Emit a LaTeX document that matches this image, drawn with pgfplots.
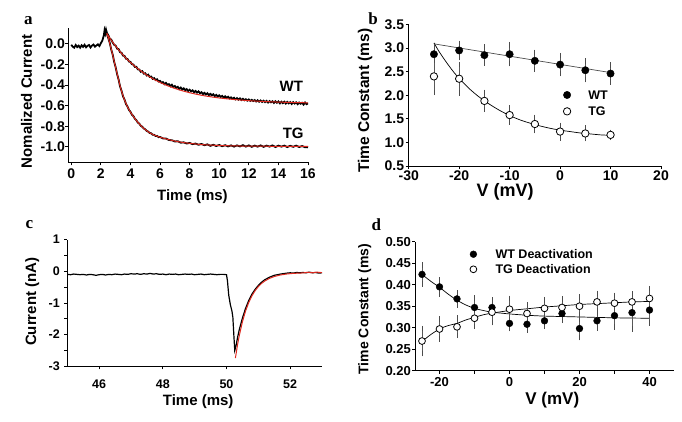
\documentclass[border=0pt]{standalone}
\usepackage{fontspec}
\setmainfont{Liberation Sans}
\newfontfamily\panelfont{Liberation Serif}
\usepackage{pgfplots}
\pgfplotsset{compat=1.18}
\newcommand{\fs}[1]{\fontsize{#1}{#1}\selectfont}
\definecolor{fitred}{RGB}{222,40,30}
\pgfplotsset{
  panel/.style={
    scale only axis, anchor=south west,
    axis lines*=left,
    axis line style={line width=0.8pt, black},
    every tick/.style={black, line width=0.8pt},
    tick align=outside, major tick length=3pt, minor tick length=3pt,
    /pgf/number format/assume math mode=true,
    clip=false,
  },
  ebar/.style={error bars/.cd, y dir=both, y explicit,
    error bar style={line width=0.8pt, black!65},
    error mark options={line width=0.8pt, mark size=2.8pt, black!70}},
}
\begin{document}
\begin{tikzpicture}[x=1pt,y=1pt]
\useasboundingbox (0,0) rectangle (682,421);
% panel letters
\node[anchor=base, font=\panelfont\bfseries\fs{17}] at (28.3,396) {a};
\node[anchor=base, font=\panelfont\bfseries\fs{17}] at (373.2,396) {b};
\node[anchor=base, font=\panelfont\bfseries\fs{17}] at (29.3,192.7) {c};
\node[anchor=base, font=\panelfont\bfseries\fs{17}] at (376.3,191) {d};

% ---------------- panel a
\begin{axis}[panel, at={(68.3pt,258.7pt)}, width=239.7pt, height=134pt,
  xmin=-0.2, xmax=16, ymin=-1.15, ymax=0.15,
  xtick={0,2,4,6,8,10,12,14,16},
  ytick={-1.0,-0.8,-0.6,-0.4,-0.2,0.0},
  xticklabel style={font=\bfseries\fs{14}, anchor=base, inner sep=0pt, yshift=-13pt},
  yticklabel style={font=\bfseries\fs{14}, anchor=east, inner sep=0pt, xshift=-0.3pt,
    /pgf/number format/fixed, /pgf/number format/fixed zerofill, /pgf/number format/precision=1},
  xlabel={Time (ms)}, ylabel={Nomalized Current},
  xlabel style={font=\bfseries\fs{15}, at={(axis description cs:0.518,0)}, anchor=base, yshift=-37.7pt},
  ylabel style={font=\bfseries\fs{15}, at={(axis description cs:-0.1744,0.454)}, anchor=center},
]
\addplot[black, line width=1.8pt] coordinates {
(0.0,-0.010)(0.1,-0.028)(0.2,-0.038)(0.3,-0.012)(0.4,-0.032)(0.5,-0.018)(0.6,-0.038)(0.7,-0.015)(0.8,-0.030)(0.9,-0.010)
(1.0,-0.034)(1.1,-0.020)(1.2,-0.012)(1.3,-0.036)(1.4,-0.018)(1.5,-0.008)(1.6,-0.028)(1.7,-0.016)(1.8,-0.006)(1.9,-0.022)
(2.0,0.005)(2.1,0.030)(2.2,0.080)(2.25,0.130)(2.3,0.100)(2.35,0.135)
(2.4,0.105)(2.5,0.085)(2.6,0.050)(2.7,0.040)(2.8,0.012)(2.9,-0.010)(3.0,-0.018)(3.1,-0.048)(3.2,-0.052)(3.3,-0.082)
(3.4,-0.088)(3.5,-0.115)(3.6,-0.118)(3.7,-0.145)(3.8,-0.148)(3.9,-0.172)(4.0,-0.176)(4.1,-0.198)(4.2,-0.202)(4.3,-0.225)
(4.4,-0.224)(4.5,-0.248)(4.6,-0.250)(4.7,-0.272)(4.8,-0.266)(4.9,-0.290)(5.0,-0.286)(5.1,-0.308)(5.2,-0.300)(5.3,-0.322)
(5.4,-0.318)(5.5,-0.340)(5.6,-0.333)(5.7,-0.352)(5.8,-0.345)(5.9,-0.366)(6.0,-0.360)(6.1,-0.378)(6.2,-0.372)(6.3,-0.392)
(6.4,-0.380)(6.5,-0.398)(6.6,-0.392)(6.7,-0.412)(6.8,-0.398)(6.9,-0.420)(7.0,-0.410)(7.1,-0.428)(7.2,-0.418)(7.3,-0.440)
(7.4,-0.425)(7.5,-0.444)(7.6,-0.432)(7.7,-0.450)(7.8,-0.440)(7.9,-0.458)(8.0,-0.446)(8.1,-0.462)(8.2,-0.452)(8.3,-0.470)
(8.4,-0.458)(8.5,-0.474)(8.6,-0.462)(8.7,-0.480)(8.8,-0.470)(8.9,-0.488)(9.0,-0.476)(9.1,-0.492)(9.2,-0.480)(9.3,-0.498)
(9.4,-0.486)(9.5,-0.500)(9.6,-0.490)(9.7,-0.508)(9.8,-0.496)(9.9,-0.512)(10.0,-0.500)(10.1,-0.516)(10.2,-0.506)(10.3,-0.522)
(10.4,-0.510)(10.5,-0.526)(10.6,-0.514)(10.7,-0.530)(10.8,-0.520)(10.9,-0.534)(11.0,-0.524)(11.1,-0.540)(11.2,-0.528)(11.3,-0.542)
(11.4,-0.530)(11.5,-0.546)(11.6,-0.534)(11.7,-0.548)(11.8,-0.538)(11.9,-0.552)(12.0,-0.540)(12.1,-0.554)(12.2,-0.544)(12.3,-0.556)
(12.4,-0.546)(12.5,-0.560)(12.6,-0.548)(12.7,-0.562)(12.8,-0.550)(12.9,-0.564)(13.0,-0.552)(13.1,-0.566)(13.2,-0.554)(13.3,-0.570)
(13.4,-0.556)(13.5,-0.568)(13.6,-0.558)(13.7,-0.574)(13.8,-0.558)(13.9,-0.572)(14.0,-0.560)(14.1,-0.578)(14.2,-0.562)(14.3,-0.576)
(14.4,-0.562)(14.5,-0.580)(14.6,-0.564)(14.7,-0.578)(14.8,-0.566)(14.9,-0.584)(15.0,-0.566)(15.1,-0.580)(15.2,-0.568)(15.3,-0.586)
(15.4,-0.570)(15.5,-0.582)(15.6,-0.572)(15.7,-0.590)(15.8,-0.570)(15.9,-0.586)(16.0,-0.578)
};
\addplot[black, line width=1.8pt] coordinates {
(2.35,0.135)(2.4,0.100)(2.5,0.055)(2.6,0.010)(2.7,-0.055)(2.8,-0.105)(2.9,-0.175)(3.0,-0.228)(3.1,-0.295)(3.2,-0.348)
(3.3,-0.415)(3.4,-0.458)(3.5,-0.510)(3.6,-0.542)(3.7,-0.585)(3.8,-0.608)(3.9,-0.642)(4.0,-0.660)(4.1,-0.688)(4.2,-0.702)
(4.3,-0.728)(4.4,-0.742)(4.5,-0.765)(4.6,-0.775)(4.7,-0.796)(4.8,-0.805)(4.9,-0.822)(5.0,-0.830)(5.1,-0.846)(5.2,-0.852)
(5.3,-0.866)(5.4,-0.868)(5.5,-0.882)(5.6,-0.884)(5.7,-0.895)(5.8,-0.894)(5.9,-0.906)(6.0,-0.904)(6.2,-0.918)(6.4,-0.920)
(6.6,-0.934)(6.8,-0.936)(7.0,-0.948)(7.2,-0.946)(7.4,-0.960)(7.6,-0.956)(7.8,-0.968)(8.0,-0.962)(8.2,-0.974)(8.4,-0.968)
(8.6,-0.980)(8.8,-0.972)(9.0,-0.984)(9.2,-0.976)(9.4,-0.990)(9.6,-0.980)(9.8,-0.992)(10.0,-0.982)(10.2,-0.994)(10.4,-0.984)
(10.6,-0.996)(10.8,-0.986)(11.0,-0.998)(11.2,-0.986)(11.4,-0.996)(11.6,-0.984)(11.8,-0.998)(12.0,-0.986)(12.2,-1.000)(12.4,-0.988)
(12.6,-0.998)(12.8,-0.986)(13.0,-1.000)(13.2,-0.988)(13.4,-0.998)(13.6,-0.986)(13.8,-1.002)(14.0,-0.988)(14.2,-0.998)(14.4,-0.988)
(14.6,-1.002)(14.8,-0.990)(15.0,-1.000)(15.2,-0.988)(15.4,-1.002)(15.6,-0.992)(15.8,-1.004)(16.0,-1.005)
};
\addplot[fitred, line width=1.0pt] coordinates {
(2.4,0.100)(2.6,0.056)(2.8,0.015)(3.0,-0.023)(3.2,-0.059)(3.4,-0.093)(3.6,-0.124)(3.8,-0.154)(4.0,-0.181)
(4.4,-0.231)(4.8,-0.274)(5.2,-0.313)(5.6,-0.346)(6.0,-0.375)(6.5,-0.407)(7.0,-0.433)(7.5,-0.456)(8.0,-0.475)
(8.5,-0.491)(9.0,-0.505)(9.5,-0.516)(10.0,-0.526)(11.0,-0.541)(12.0,-0.552)(13.0,-0.560)(14.0,-0.566)(15.0,-0.570)(16.0,-0.573)
};
\addplot[fitred, line width=1.0pt] coordinates {
(2.4,0.100)(2.5,0.060)(2.6,0.005)(2.7,-0.050)(2.8,-0.110)(2.9,-0.170)(3.0,-0.230)(3.1,-0.290)(3.2,-0.350)(3.3,-0.410)
(3.4,-0.460)(3.5,-0.505)(3.6,-0.545)(3.7,-0.580)(3.8,-0.610)(3.9,-0.638)(4.0,-0.663)(4.2,-0.705)(4.4,-0.745)(4.6,-0.778)
(4.8,-0.808)(5.0,-0.833)(5.3,-0.864)(5.6,-0.886)(6.0,-0.907)(6.5,-0.927)(7.0,-0.944)(7.5,-0.957)(8.0,-0.966)(8.5,-0.974)
(9.0,-0.980)(10.0,-0.987)(11.0,-0.991)(12.0,-0.993)(14.0,-0.995)(16.0,-0.996)
};
\node[font=\bfseries\fs{15}] at (axis cs:14.87,-0.41) {WT};
\node[font=\bfseries\fs{15}] at (axis cs:15.0,-0.87) {TG};
\end{axis}

% ---------------- panel b
\begin{axis}[panel, at={(408.7pt,255pt)}, width=252.3pt, height=141.5pt,
  xmin=-30, xmax=20, ymin=0.5, ymax=3.5,
  xtick={-30,-20,-10,0,10,20},
  ytick={0.5,1.0,1.5,2.0,2.5,3.0,3.5},
  xticklabel style={font=\bfseries\fs{14}, anchor=base, inner sep=0pt, yshift=-11pt},
  yticklabel style={font=\bfseries\fs{14}, anchor=east, inner sep=0pt, xshift=-1.4pt,
    /pgf/number format/fixed, /pgf/number format/fixed zerofill, /pgf/number format/precision=1},
  xlabel={V (mV)}, ylabel={Time Constant (ms)},
  xlabel style={font=\bfseries\fs{18}, at={(axis description cs:0.382,0)}, anchor=base, yshift=-30.5pt},
  ylabel style={font=\bfseries\fs{15.5}, at={(axis description cs:-0.1732,0.461)}, anchor=center},
  legend style={draw=none, fill=none, inner sep=0pt, at={(0.6064,0.5336)}, anchor=north west,
    row sep=7.7pt, nodes={inner sep=0pt, text depth=0pt, font=\bfseries\fs{12.5}}},
  legend cell align=left,
  legend image code/.code={\draw[#1] plot coordinates {(0pt,0pt)}; \path (-5pt,0pt) (21pt,0pt);},
]
\addplot[black!70, line width=0.7pt, forget plot] coordinates {(-25,3.09)(10,2.48)};
\addplot[black, line width=0.7pt, smooth, forget plot] coordinates {
(-25,3.11)(-24,2.93)(-23,2.77)(-22,2.62)(-21,2.48)(-20,2.36)(-18,2.14)(-16,1.96)(-14,1.81)(-12,1.68)
(-10,1.57)(-8,1.48)(-6,1.41)(-4,1.35)(-2,1.30)(0,1.26)(2,1.23)(4,1.20)(6,1.18)(8,1.16)(10,1.15)};
\addplot[only marks, mark=*, mark size=3.7pt, black, ebar] table[x=x, y=y, y error=e] {
x y e
-25 2.87 0.14
-20 2.95 0.15
-15 2.85 0.17
-10 2.87 0.20
-5 2.73 0.18
0 2.65 0.19
5 2.53 0.20
10 2.46 0.18
};
\addlegendentry{WT}
\addplot[only marks, mark=*, mark size=3.7pt, mark options={fill=white, draw=black, line width=0.8pt}, ebar] table[x=x, y=y, y error=e] {
x y e
-25 2.40 0.34
-20 2.35 0.30
-15 1.88 0.18
-10 1.58 0.15
-5 1.39 0.14
0 1.23 0.13
5 1.19 0.11
10 1.16 0.05
};
\addlegendentry{TG}
\end{axis}

% ---------------- panel c
\begin{axis}[panel, at={(67.3pt,54.7pt)}, width=254.7pt, height=126.8pt,
  xmin=45, xmax=53, ymin=-3, ymax=1,
  xtick={46,48,50,52}, ytick={-3,-2,-1,0,1}, minor ytick={-2.5,-1.5,-0.5,0.5},
  xticklabel style={font=\bfseries\fs{12.5}, anchor=base, inner sep=0pt, yshift=-19pt},
  yticklabel style={font=\bfseries\fs{12.5}, anchor=east, inner sep=0pt, xshift=-4.3pt},
  xlabel={Time (ms)}, ylabel={Current (nA)},
  xlabel style={font=\bfseries\fs{15}, at={(axis description cs:0.514,0)}, anchor=base, yshift=-38.7pt},
  ylabel style={font=\bfseries\fs{15}, at={(axis description cs:-0.1378,0.509)}, anchor=center},
]
\addplot[black, line width=1.2pt] coordinates {
(45.0,-0.10)(45.1,-0.11)(45.2,-0.09)(45.3,-0.10)(45.4,-0.11)(45.5,-0.10)(45.6,-0.12)(45.7,-0.10)(45.8,-0.11)(45.9,-0.13)
(46.0,-0.11)(46.1,-0.10)(46.2,-0.12)(46.3,-0.10)(46.4,-0.11)(46.5,-0.09)(46.6,-0.10)(46.7,-0.11)(46.8,-0.09)(46.9,-0.10)
(47.0,-0.08)(47.1,-0.09)(47.2,-0.08)(47.3,-0.10)(47.4,-0.08)(47.5,-0.09)(47.6,-0.07)(47.7,-0.09)(47.8,-0.08)(47.9,-0.10)
(48.0,-0.09)(48.1,-0.11)(48.2,-0.09)(48.3,-0.10)(48.4,-0.09)(48.5,-0.11)(48.6,-0.10)(48.7,-0.09)(48.8,-0.10)(48.9,-0.09)
(49.0,-0.11)(49.1,-0.10)(49.2,-0.09)(49.3,-0.11)(49.4,-0.10)(49.5,-0.09)(49.6,-0.10)(49.7,-0.11)(49.8,-0.10)(49.9,-0.10)
(50.0,-0.11)(50.03,-0.30)(50.07,-0.75)(50.12,-1.05)(50.17,-1.25)(50.2,-1.45)(50.23,-2.0)(50.26,-2.50)(50.3,-2.35)(50.35,-2.08)
(50.4,-1.85)(50.5,-1.48)(50.6,-1.17)(50.7,-0.92)(50.8,-0.72)(50.9,-0.57)(51.0,-0.45)(51.1,-0.35)(51.2,-0.27)(51.35,-0.19)
(51.5,-0.13)(51.7,-0.09)(51.9,-0.06)(52.0,-0.05)(52.1,-0.06)(52.2,-0.04)(52.3,-0.05)(52.4,-0.04)(52.5,-0.05)(52.6,-0.03)
(52.7,-0.05)(52.8,-0.04)(52.9,-0.06)(53.0,-0.05)
};
\addplot[fitred, line width=1.0pt] coordinates {
(50.28,-2.74)(50.35,-2.305)(50.4,-2.04)(50.5,-1.598)(50.6,-1.253)(50.7,-0.985)(50.8,-0.776)(50.9,-0.613)(51.0,-0.486)
(51.1,-0.387)(51.2,-0.311)(51.35,-0.226)(51.5,-0.168)(51.7,-0.118)(51.9,-0.087)(52.1,-0.069)(52.4,-0.054)(52.55,-0.035)
(52.7,-0.050)(52.85,-0.030)(53.0,-0.045)
};
\end{axis}

% ---------------- panel d
\begin{axis}[panel, at={(415pt,50.3pt)}, width=259pt, height=129pt,
  xmin=-27, xmax=47, ymin=0.2, ymax=0.5,
  xtick={-20,0,20,40}, minor xtick={-10,10,30},
  ytick={0.20,0.25,0.30,0.35,0.40,0.45,0.50},
  xticklabel style={font=\bfseries\fs{13}, anchor=base, inner sep=0pt, yshift=-13pt},
  yticklabel style={font=\bfseries\fs{13}, anchor=east, inner sep=0pt, xshift=-1pt,
    /pgf/number format/fixed, /pgf/number format/fixed zerofill, /pgf/number format/precision=2},
  xlabel={V (mV)}, ylabel={Time Constant (ms)},
  xlabel style={font=\bfseries\fs{17}, at={(axis description cs:0.53,0)}, anchor=base, yshift=-33.3pt},
  ylabel style={font=\bfseries\fs{14}, at={(axis description cs:-0.1942,0.477)}, anchor=center},
  legend style={draw=none, fill=none, inner sep=0pt, at={(0.2046,0.9395)}, anchor=north west,
    row sep=6pt, nodes={inner sep=0pt, text depth=0pt, font=\bfseries\fs{12.5}}},
  legend cell align=left,
  legend image code/.code={\draw[#1] plot coordinates {(0pt,0pt)}; \path (-5pt,0pt) (22pt,0pt);},
]
\addplot[black, line width=0.7pt, smooth, forget plot] coordinates {
(-25,0.424)(-22.5,0.408)(-20,0.394)(-17.5,0.378)(-15,0.364)(-12.5,0.353)(-10,0.345)(-7.5,0.340)(-5,0.336)
(-2.5,0.334)(0,0.332)(5,0.329)(10,0.327)(20,0.325)(30,0.323)(40,0.322)};
\addplot[black, line width=0.7pt, smooth, forget plot] coordinates {
(-25,0.268)(-22.5,0.284)(-20,0.297)(-17.5,0.305)(-15,0.310)(-12.5,0.318)(-10,0.324)(-7.5,0.330)(-5,0.334)
(-2.5,0.337)(0,0.340)(5,0.344)(10,0.348)(15,0.351)(20,0.354)(25,0.356)(30,0.358)(35,0.360)(40,0.361)};
\addplot[only marks, mark=*, mark size=3.4pt, black, ebar] table[x=x, y=y, y error=e] {
x y e
-25 0.424 0.022
-20 0.395 0.016
-15 0.367 0.014
-10 0.347 0.022
-5 0.347 0.017
0 0.310 0.012
5 0.308 0.013
10 0.316 0.013
15 0.333 0.016
20 0.298 0.021
25 0.316 0.017
30 0.328 0.026
35 0.335 0.038
40 0.341 0.030
};
\addlegendentry{WT Deactivation}
\addplot[only marks, mark=*, mark size=3.4pt, mark options={fill=white, draw=black, line width=0.8pt}, ebar] table[x=x, y=y, y error=e] {
x y e
-25 0.269 0.029
-20 0.297 0.023
-15 0.302 0.020
-10 0.322 0.019
-5 0.336 0.024
0 0.343 0.025
5 0.333 0.020
10 0.345 0.020
15 0.347 0.020
20 0.350 0.021
25 0.360 0.020
30 0.357 0.018
35 0.360 0.018
40 0.368 0.023
};
\addlegendentry{TG Deactivation}
\end{axis}
\end{tikzpicture}
\end{document}
